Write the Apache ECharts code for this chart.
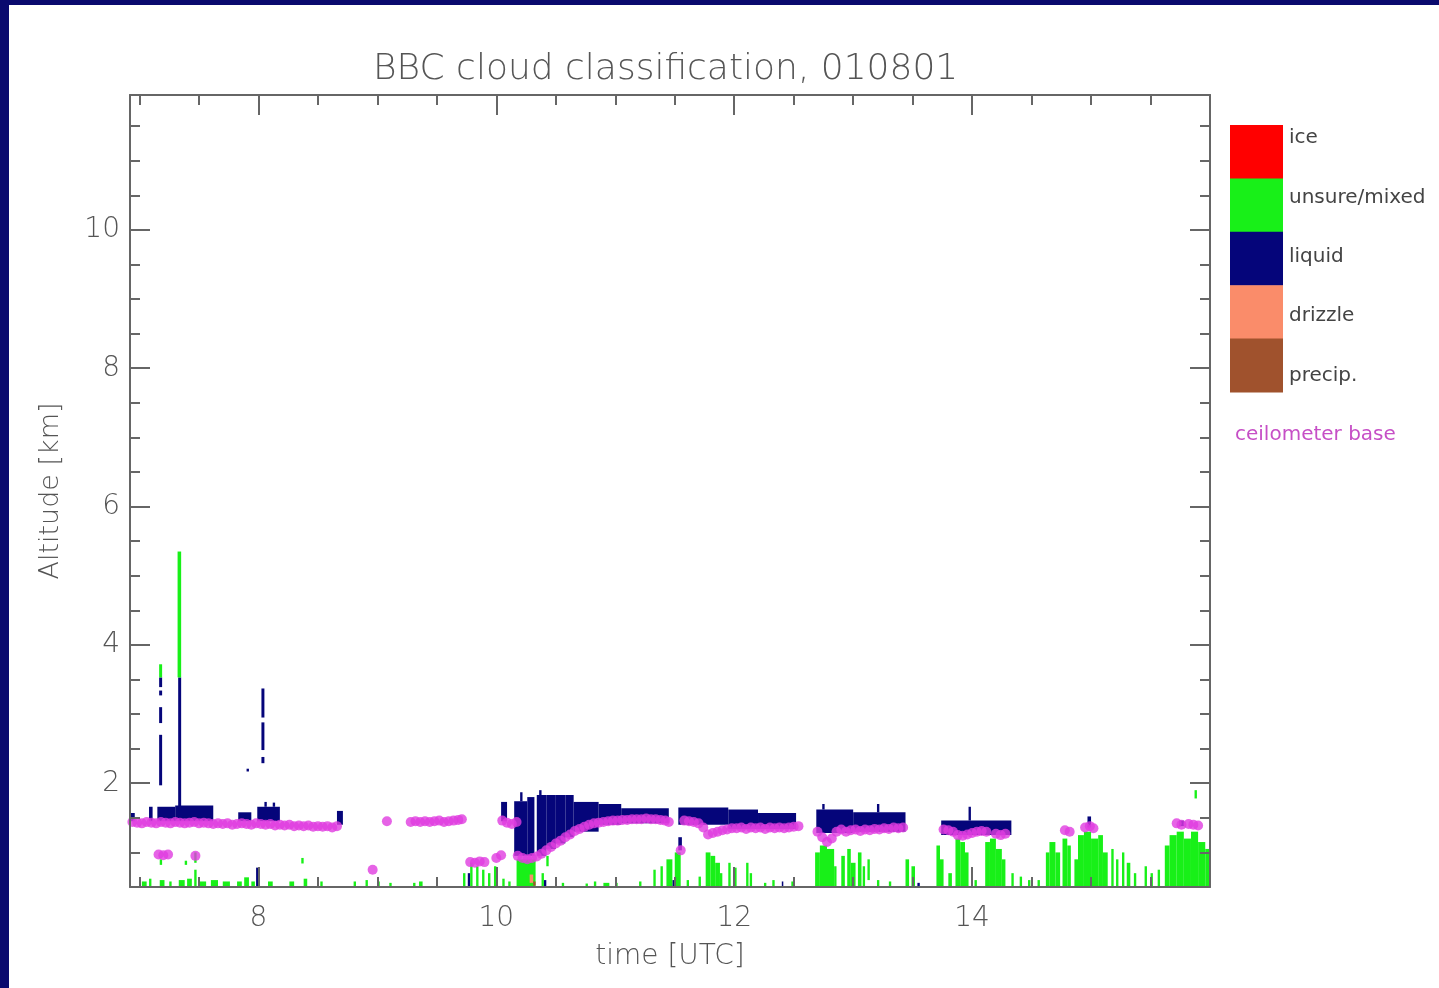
<!DOCTYPE html>
<html>
<head>
<meta charset="utf-8">
<script src="https://cdn.jsdelivr.net/npm/echarts@6/dist/echarts.min.js"></script>
<style>
  html, body { margin: 0; padding: 0; background: #fff; }
  #chart { position: absolute; left: 0; top: 0; width: 1439px; height: 988px; background: #fff; }
  #frame { position: absolute; left: 0; top: 0; width: 1439px; height: 988px; box-sizing: border-box;
           border-left: 9px solid #0a0a6e; border-top: 5px solid #0a0a6e; pointer-events: none; }
</style>
</head>
<body>
<div id="chart"></div>
<div id="frame"></div>
<script>
// ---------------- data ----------------
const titleText = 'BBC cloud classification, 010801';
const xMajorTicks = [8, 10, 12, 14];
const xMinorTicks = [7, 7.5, 8.5, 9, 9.5, 10.5, 11, 11.5, 12.5, 13, 13.5, 14.5, 15, 15.5];
const yMajorTicks = [2, 4, 6, 8, 10];
const yMinorTicks = [1, 1.5, 2.5, 3, 3.5, 4.5, 5, 5.5, 6.5, 7, 7.5, 8.5, 9, 9.5, 10.5, 11, 11.5];
const timeRange = [6.92, 16.0];
const altRange = [0.5, 11.95];

const classNames = ['ice', 'unsure/mixed', 'liquid', 'drizzle', 'precip.'];
const classColors = ['#ff0000', '#18f018', '#05057a', '#fa8c6a', '#a0522d'];

// cells: [timeStart, timeEnd, altBottom, altTop]  (hours UTC, km)
const liquidCells = [
  [6.92,6.96,1.45,1.57],[7.08,7.11,1.45,1.66],[7.15,7.30,1.45,1.66],[7.30,7.62,1.45,1.68],
  [7.325,7.35,1.6,3.53],
  [7.165,7.19,3.39,3.53],[7.165,7.19,3.27,3.34],[7.165,7.19,2.87,3.10],[7.165,7.19,1.97,2.70],
  [8.025,8.05,2.95,3.37],[8.025,8.05,2.48,2.88],[8.025,8.05,2.29,2.38],[7.90,7.92,2.17,2.21],
  [7.83,7.94,1.45,1.58],[7.99,8.18,1.45,1.66],[8.05,8.07,1.66,1.73],[8.12,8.14,1.66,1.72],
  [8.66,8.71,1.40,1.60],
  [10.04,10.09,1.45,1.73],[10.15,10.26,0.95,1.74],[10.26,10.32,0.95,1.80],
  [10.34,10.42,0.95,1.83],[10.42,10.50,1.05,1.83],[10.50,10.58,1.13,1.83],[10.58,10.65,1.22,1.83],
  [10.36,10.38,1.83,1.90],[10.20,10.22,1.74,1.87],
  [10.65,10.86,1.30,1.73],[10.86,11.05,1.40,1.70],[11.05,11.45,1.42,1.64],
  [11.53,11.56,1.03,1.22],[11.53,11.95,1.40,1.65],[11.95,12.20,1.34,1.62],[12.20,12.52,1.34,1.57],
  [12.69,13.00,1.28,1.62],[13.00,13.44,1.30,1.58],[12.74,12.76,1.62,1.70],[13.20,13.22,1.58,1.70],
  [13.74,14.33,1.25,1.46],[13.97,13.99,1.46,1.66],[14.97,15.00,1.36,1.52],[15.74,15.78,1.38,1.46],
  [7.98,8.00,0.5,0.78],[9.76,9.78,0.5,0.70],[10.40,10.42,0.5,0.60],[11.48,11.50,0.5,0.60],
  [12.40,12.41,0.5,0.58],[13.54,13.56,0.5,0.56],[15.93,15.95,0.5,0.56]
];
const mixedCells = [
  [7.32,7.35,3.53,5.35],[7.165,7.19,3.53,3.72],
  [7.02,7.06,0.5,0.58],[7.08,7.10,0.5,0.62],[7.17,7.21,0.5,0.60],[7.25,7.27,0.5,0.58],[7.33,7.38,0.5,0.60],
  [7.40,7.44,0.5,0.62],[7.46,7.48,0.5,0.75],[7.50,7.56,0.5,0.58],[7.60,7.66,0.5,0.60],[7.70,7.76,0.5,0.58],
  [7.82,7.86,0.5,0.58],[7.88,7.92,0.5,0.64],[7.94,7.97,0.5,0.58],[8.08,8.12,0.5,0.58],[8.26,8.30,0.5,0.58],
  [8.38,8.41,0.5,0.62],[8.52,8.54,0.5,0.58],[8.80,8.82,0.5,0.58],[8.90,8.92,0.5,0.60],[9.00,9.02,0.5,0.58],
  [9.10,9.12,0.5,0.56],[9.30,9.32,0.5,0.56],[9.35,9.38,0.5,0.58],
  [7.46,7.48,0.85,1.0],[7.17,7.19,0.82,0.90],[8.36,8.38,0.84,0.92],[7.38,7.40,0.82,0.88],
  [9.72,9.74,0.5,0.70],[9.78,9.80,0.5,0.85],[9.83,9.85,0.5,0.80],[9.88,9.90,0.5,0.75],[9.93,9.95,0.5,0.70],
  [9.98,10.00,0.5,0.80],[10.05,10.07,0.5,0.62],[10.10,10.12,0.5,0.58],
  [10.17,10.33,0.5,0.90],[10.38,10.40,0.5,0.70],[10.42,10.44,0.80,0.95],
  [10.55,10.57,0.5,0.56],[10.75,10.77,0.5,0.55],[10.82,10.84,0.5,0.58],[10.90,10.95,0.5,0.56],
  [11.00,11.02,0.5,0.56],[11.20,11.22,0.5,0.58],[11.32,11.34,0.5,0.75],[11.38,11.40,0.5,0.80],
  [11.43,11.48,0.5,0.90],[11.50,11.55,0.5,1.00],[11.60,11.62,0.5,0.60],[11.70,11.72,0.5,0.65],
  [11.76,11.80,0.5,1.00],[11.80,11.84,0.5,0.95],[11.84,11.88,0.5,0.85],[11.88,11.90,0.5,0.70],
  [11.95,11.97,0.5,0.85],[11.99,12.02,0.5,0.78],[12.10,12.12,0.5,0.85],[12.13,12.15,0.5,0.70],
  [12.25,12.27,0.5,0.56],[12.32,12.34,0.5,0.60],[12.48,12.50,0.5,0.58],
  [12.68,12.72,0.5,1.00],[12.72,12.78,0.5,1.10],[12.78,12.84,0.5,1.05],[12.84,12.86,0.5,0.80],
  [12.90,12.93,0.5,0.95],[12.95,12.98,0.5,1.05],[12.98,13.02,0.5,0.85],[13.04,13.07,0.5,1.00],
  [13.08,13.10,0.5,0.80],[13.12,13.14,0.60,0.90],[13.20,13.22,0.5,0.60],[13.30,13.32,0.5,0.58],
  [13.44,13.47,0.5,0.90],[13.49,13.52,0.5,0.80],
  [13.70,13.73,0.5,1.10],[13.73,13.76,0.5,0.90],[13.80,13.83,0.5,0.70],
  [13.86,13.90,0.5,1.20],[13.90,13.94,0.5,1.15],[13.94,13.97,0.5,1.00],[14.02,14.04,0.5,0.60],
  [14.11,14.15,0.5,1.15],[14.15,14.20,0.5,1.20],[14.20,14.25,0.5,1.05],[14.25,14.28,0.5,0.90],
  [14.33,14.35,0.5,0.70],[14.40,14.42,0.5,0.65],[14.47,14.49,0.5,0.60],[14.55,14.57,0.5,0.60],
  [14.62,14.65,0.5,1.00],[14.65,14.70,0.5,1.15],[14.70,14.74,0.5,1.00],[14.76,14.80,0.5,1.20],
  [14.80,14.83,0.5,1.10],[14.86,14.89,0.5,0.90],[14.89,14.94,0.5,1.25],[14.94,15.00,0.5,1.30],
  [15.00,15.06,0.5,1.20],[15.06,15.10,0.5,1.25],[15.10,15.14,0.5,1.00],
  [15.17,15.19,0.5,1.05],[15.21,15.23,0.5,0.90],[15.26,15.28,0.5,1.00],[15.30,15.33,0.5,0.85],
  [15.36,15.38,0.5,0.70],[15.45,15.47,0.5,0.80],[15.50,15.52,0.5,0.70],[15.56,15.58,0.5,0.75],
  [15.62,15.66,0.5,1.10],[15.66,15.72,0.5,1.25],[15.72,15.78,0.5,1.30],[15.78,15.84,0.5,1.20],
  [15.84,15.90,0.5,1.30],[15.90,15.96,0.5,1.15],[15.96,16.00,0.5,1.05],[15.87,15.89,1.78,1.90]
];
const drizzleCells = [[10.28,10.31,0.56,0.68]];
const precipCells = [[10.31,10.33,0.52,0.58]];
const iceCells = [];

// ceilometer cloud base: [time, altitude]
const ceilometerBase = [
  [6.94,1.44],[6.98,1.43],[7.02,1.42],[7.06,1.44],[7.10,1.43],[7.14,1.42],[7.18,1.44],[7.22,1.43],
  [7.26,1.42],[7.30,1.44],[7.34,1.43],[7.38,1.42],[7.42,1.43],[7.46,1.44],[7.50,1.42],[7.54,1.43],
  [7.58,1.42],[7.62,1.41],[7.66,1.42],[7.70,1.41],[7.74,1.42],[7.78,1.40],[7.82,1.41],[7.86,1.42],
  [7.90,1.41],[7.94,1.40],[7.98,1.42],[8.02,1.41],[8.06,1.40],[8.10,1.41],[8.14,1.39],[8.18,1.40],
  [8.22,1.39],[8.26,1.40],[8.30,1.38],[8.34,1.39],[8.38,1.38],[8.42,1.39],[8.46,1.37],[8.50,1.38],
  [8.54,1.37],[8.58,1.38],[8.62,1.36],[8.66,1.38],
  [7.16,0.97],[7.20,0.96],[7.24,0.97],[7.47,0.95],[8.96,0.75],[9.08,1.45],
  [9.28,1.44],[9.32,1.45],[9.36,1.44],[9.40,1.45],[9.44,1.44],[9.48,1.45],[9.52,1.46],[9.56,1.44],
  [9.60,1.45],[9.64,1.46],[9.68,1.47],[9.71,1.48],
  [9.78,0.86],[9.82,0.85],[9.86,0.87],[9.90,0.86],[10.00,0.92],[10.04,0.96],
  [10.05,1.46],[10.09,1.43],[10.13,1.41],[10.17,1.44],
  [10.18,0.95],[10.22,0.92],[10.26,0.90],[10.30,0.92],[10.34,0.94],[10.38,0.98],[10.42,1.03],
  [10.46,1.08],[10.50,1.13],[10.54,1.17],[10.58,1.22],[10.62,1.26],[10.66,1.31],[10.70,1.34],
  [10.74,1.37],[10.78,1.40],[10.82,1.42],[10.86,1.43],[10.90,1.44],[10.94,1.45],[10.98,1.46],
  [11.02,1.46],[11.06,1.47],[11.10,1.47],[11.14,1.48],[11.18,1.48],[11.22,1.48],[11.26,1.49],
  [11.30,1.48],[11.34,1.48],[11.38,1.47],[11.42,1.46],[11.45,1.44],
  [11.55,1.03],
  [11.58,1.46],[11.62,1.45],[11.66,1.44],[11.70,1.42],[11.74,1.36],[11.78,1.26],[11.82,1.28],
  [11.86,1.30],[11.90,1.32],[11.94,1.33],[11.98,1.35],[12.02,1.35],[12.06,1.36],[12.10,1.34],
  [12.14,1.36],[12.18,1.35],[12.22,1.36],[12.26,1.34],[12.30,1.36],[12.34,1.35],[12.38,1.36],
  [12.42,1.35],[12.46,1.36],[12.50,1.37],[12.54,1.38],
  [12.70,1.30],[12.74,1.22],[12.78,1.15],[12.82,1.20],[12.86,1.30],[12.90,1.33],[12.94,1.30],
  [12.98,1.32],[13.02,1.33],[13.06,1.31],[13.10,1.33],[13.14,1.32],[13.18,1.34],[13.22,1.33],
  [13.26,1.35],[13.30,1.34],[13.34,1.36],[13.38,1.35],[13.42,1.36],
  [13.76,1.33],[13.80,1.32],[13.84,1.30],[13.88,1.25],[13.92,1.24],[13.96,1.26],[14.00,1.28],
  [14.04,1.30],[14.08,1.31],[14.12,1.30],[14.20,1.27],[14.24,1.25],[14.28,1.27],
  [14.78,1.32],[14.82,1.30],[14.95,1.36],[14.99,1.38],[15.02,1.35],
  [15.72,1.42],[15.76,1.40],[15.82,1.41],[15.86,1.40],[15.90,1.39]
];

// ---------------- chart ----------------
const TXT = '#555';
const AXC = '#666';
const FONT = 'DejaVu Sans';

function cellSeries(name, cells, color, z) {
  return {
    type: 'custom', name: name, data: cells, z: z,
    renderItem: function (params, api) {
      const p0 = api.coord([api.value(0), api.value(3)]);
      const p1 = api.coord([api.value(1), api.value(2)]);
      return {
        type: 'rect',
        shape: { x: p0[0], y: p0[1], width: Math.max(p1[0] - p0[0], 1.5), height: Math.max(p1[1] - p0[1], 1.5) },
        style: { fill: color }
      };
    },
    encode: { x: [0, 1], y: [2, 3] }
  };
}

function xAx(pos, major, showLabel, extra) {
  return Object.assign({
    type: 'value', position: pos, min: timeRange[0], max: timeRange[1], z: 10,
    axisLine: { show: major, lineStyle: { color: AXC, width: 2 } },
    axisTick: { show: true, inside: true, length: major ? 20 : 10,
                customValues: major ? xMajorTicks : xMinorTicks, lineStyle: { color: AXC, width: 2 } },
    axisLabel: { show: showLabel, customValues: xMajorTicks, margin: 18, color: TXT, fontSize: 28, fontFamily: FONT, fontWeight: 300 },
    splitLine: { show: false }
  }, extra || {});
}
function yAx(pos, major, showLabel, extra) {
  return Object.assign({
    type: 'value', position: pos, min: altRange[0], max: altRange[1], z: 10,
    axisLine: { show: major, lineStyle: { color: AXC, width: 2 } },
    axisTick: { show: true, inside: true, length: major ? 20 : 10,
                customValues: major ? yMajorTicks : yMinorTicks, lineStyle: { color: AXC, width: 2 } },
    axisLabel: { show: showLabel, customValues: yMajorTicks, margin: 10, color: TXT, fontSize: 28, fontFamily: FONT, fontWeight: 300 },
    splitLine: { show: false }
  }, extra || {});
}

const legendX = 1230, legendY = 125, boxW = 53, boxH = 53.4;
const legendLabelY = [138, 198, 257, 316, 376];
const graphics = [];
classNames.forEach(function (n, i) {
  graphics.push({ type: 'rect', shape: { x: legendX, y: legendY + i * boxH, width: boxW, height: boxH + 0.5 },
                  style: { fill: classColors[i] } });
  graphics.push({ type: 'text', x: legendX + boxW + 6, y: legendLabelY[i],
                  style: { text: n, fill: '#444', font: '20px "DejaVu Sans"', textVerticalAlign: 'middle' } });
});
graphics.push({ type: 'text', x: 1235, y: 435,
                style: { text: 'ceilometer base', fill: '#c64fc6', font: '20px "DejaVu Sans"', textVerticalAlign: 'middle' } });

const chart = echarts.init(document.getElementById('chart'), null, { renderer: 'canvas' });
chart.setOption({
  backgroundColor: '#ffffff',
  animation: false,
  title: {
    text: titleText, left: 368, top: 47,
    textStyle: { color: TXT, fontSize: 36, fontWeight: 300, fontFamily: FONT }
  },
  grid: { left: 130, top: 95, width: 1080, height: 792 },
  xAxis: [
    xAx('bottom', true, true, { name: 'time [UTC]', nameLocation: 'middle', nameGap: 56,
        nameTextStyle: { color: TXT, fontSize: 28, fontFamily: FONT, fontWeight: 300 } }),
    xAx('bottom', false, false),
    xAx('top', true, false),
    xAx('top', false, false)
  ],
  yAxis: [
    yAx('left', true, true, { name: 'Altitude [km]', nameLocation: 'middle', nameGap: 66,
        nameTextStyle: { color: TXT, fontSize: 27, fontFamily: FONT, fontWeight: 300 } }),
    yAx('left', false, false),
    yAx('right', true, false),
    yAx('right', false, false)
  ],
  graphic: graphics,
  series: [
    cellSeries('ice', iceCells, classColors[0], 2),
    cellSeries('liquid', liquidCells, classColors[2], 2),
    cellSeries('unsure/mixed', mixedCells, classColors[1], 3),
    cellSeries('drizzle', drizzleCells, classColors[3], 4),
    cellSeries('precip.', precipCells, classColors[4], 4),
    {
      type: 'scatter', name: 'ceilometer base', data: ceilometerBase, z: 5,
      symbol: 'circle', symbolSize: 10,
      itemStyle: { color: '#e03ce0' }
    }
  ]
});
</script>
</body>
</html>
